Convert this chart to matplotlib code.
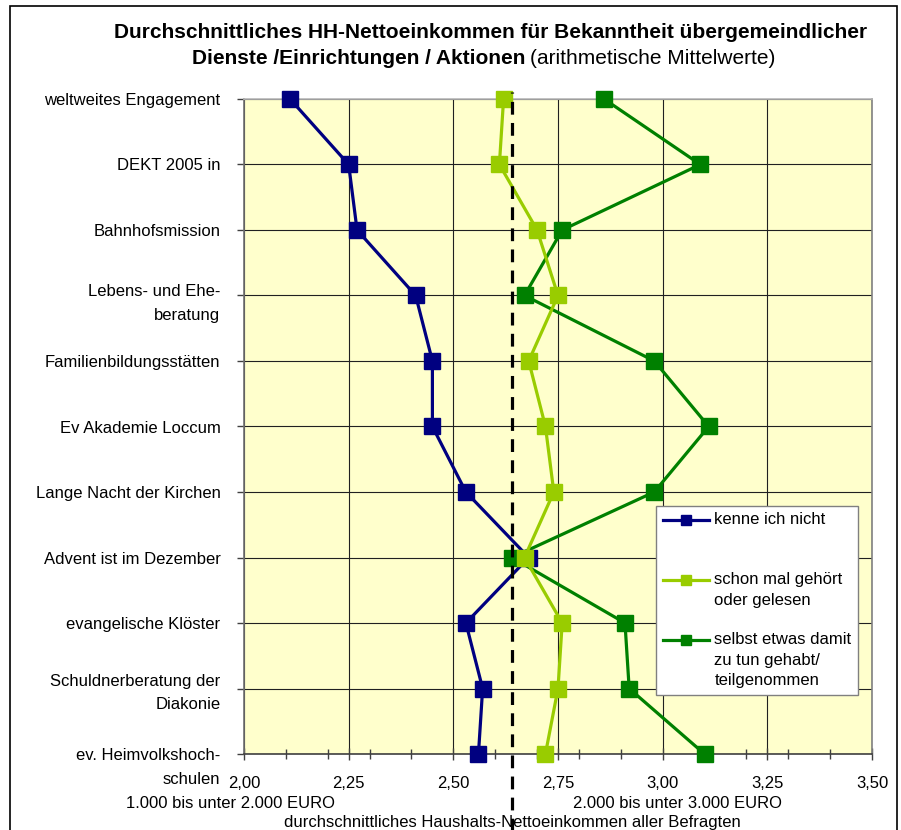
import numpy as np
import matplotlib
matplotlib.use("Agg")
import matplotlib.pyplot as plt
import matplotlib.transforms as mtransforms
from matplotlib.legend_handler import HandlerLine2D
from matplotlib.lines import Line2D
from matplotlib.patches import Rectangle

plt.rcParams['font.family'] = ['Liberation Sans', 'DejaVu Sans']

# --- data (arithmetic means, 2 = 1.000-2.000 EUR, 3 = 2.000-3.000 EUR) ---
categories = [
    "weltweites Engagement",
    "DEKT 2005 in",
    "Bahnhofsmission",
    "Lebens- und Ehe-\nberatung",
    "Familienbildungsstätten",
    "Ev Akademie Loccum",
    "Lange Nacht der Kirchen",
    "Advent ist im Dezember",
    "evangelische Klöster",
    "Schuldnerberatung der\nDiakonie",
    "ev. Heimvolkshoch-\nschulen",
]
kenne_nicht = [2.11, 2.25, 2.27, 2.41, 2.45, 2.45, 2.53, 2.68, 2.53, 2.57, 2.56]
schon_gehoert = [2.62, 2.61, 2.70, 2.75, 2.68, 2.72, 2.74, 2.67, 2.76, 2.75, 2.72]
selbst_teilgenommen = [2.86, 3.09, 2.76, 2.67, 2.98, 3.11, 2.98, 2.64, 2.91, 2.92, 3.10]
mittelwert_alle = 2.64

series_labels = ["kenne ich nicht", "schon mal gehört\noder gelesen",
                 "selbst etwas damit\nzu tun gehabt/\nteilgenommen"]
series_colors = ["#000080", "#99CC00", "#008000"]

x_major = [2.00, 2.25, 2.50, 2.75, 3.00, 3.25, 3.50]
x_minor = np.arange(2.1, 3.45, 0.1)

W, H = 901, 830
fig = plt.figure(figsize=(W / 100, H / 100), dpi=100)
ax = fig.add_axes([244 / W, 76 / H, 628 / W, 655 / H])
ax.set_facecolor("#FFFFCC")

y = np.arange(len(categories))

# series (green under, then navy, lime on top)
order = [2, 0, 1]
all_series = [kenne_nicht, schon_gehoert, selbst_teilgenommen]
for z, i in enumerate(order):
    ax.plot(all_series[i], y, color=series_colors[i], lw=2.3, marker="s",
            markersize=11, markeredgecolor=series_colors[i], clip_on=False,
            zorder=3 + z, label=series_labels[i])

# mean of all respondents
ax.axvline(mittelwert_alle, ymin=-0.12, ymax=1.011, clip_on=False, color="black",
           lw=2.3, ls=(0, (4, 2.6)), zorder=10)

ax.set_xlim(2.0, 3.5)
ax.set_ylim(len(categories) - 1, 0)
ax.set_xticks(x_major)
ax.set_xticks(x_minor, minor=True)
ax.set_xticklabels([f"{v:.2f}".replace(".", ",") for v in x_major], fontsize=12)
ax.set_yticks(y)
ax.set_yticklabels(categories, fontsize=12, ha="right", linespacing=1.7)

ax.tick_params(axis="x", which="major", direction="inout", length=9, width=1,
               color="#404040", pad=11)
ax.tick_params(axis="x", which="minor", direction="inout", length=7, width=1,
               color="#404040")
ax.tick_params(axis="y", which="major", direction="out", length=5, width=1,
               color="#404040", pad=12)

ax.grid(True, which="major", color="#202020", lw=0.8)
ax.set_axisbelow(True)

ax.spines["top"].set_color("#b8b8b8")
ax.spines["right"].set_color("#808080")
ax.spines["left"].set_color("#707070")
ax.spines["bottom"].set_color("#404040")
for s in ax.spines.values():
    s.set_linewidth(1.2)

# two-line labels sit a little off their tick, as in Excel
label_drop = {"ev. Heim": 5.5, "Lebens": 1.7, "Schuldner": -1}
for lab in ax.get_yticklabels():
    for key, dy in label_drop.items():
        if lab.get_text().startswith(key):
            lab.set_transform(lab.get_transform() +
                              mtransforms.ScaledTranslation(0, -dy / 72, fig.dpi_scale_trans))

# texts under the axis
ax.text(-0.021, -0.075, "1.000 bis unter 2.000 EURO", transform=ax.transAxes,
        ha="center", va="center", fontsize=12)
ax.text(0.691, -0.075, "2.000 bis unter 3.000 EURO", transform=ax.transAxes,
        ha="center", va="center", fontsize=12)
ax.text(mittelwert_alle, -0.104, "durchschnittliches Haushalts-Nettoeinkommen aller Befragten",
        transform=ax.get_xaxis_transform(), ha="center", va="center", fontsize=12)

# legend: every entry takes three lines, marker sits on the first line
LEG_FS = 12
LEG_LS = 1.45
pad_labels = [lab + "\n" * (2 - lab.count("\n")) for lab in series_labels]
step_pt = LEG_FS * (0.716 * LEG_LS + 0.21)


class FirstLineHandler(HandlerLine2D):
    def create_artists(self, legend, orig_handle, xdescent, ydescent, width,
                       height, fontsize, trans):
        arts = super().create_artists(legend, orig_handle, xdescent, ydescent,
                                      width, height, fontsize, trans)
        for a in arts:
            a.set_ydata(np.asarray(a.get_ydata()) + step_pt)
        return arts


handles = [Line2D([], [], color=c, lw=2.3, marker="s", markersize=7) for c in series_colors]
leg = ax.legend(handles, pad_labels, loc="upper left", bbox_to_anchor=(0.656, 0.379),
                borderaxespad=0, borderpad=0.4, handlelength=2.8, handletextpad=0.3,
                labelspacing=0.25, fontsize=LEG_FS, fancybox=False, framealpha=1,
                edgecolor="#808080", handler_map={Line2D: FirstLineHandler()})
leg.get_frame().set_linewidth(1.0)
leg.set_zorder(20)
for t in leg.get_texts():
    t.set_linespacing(LEG_LS)

# title
fig.text(491 / W, 1 - 32 / H,
         "Durchschnittliches HH-Nettoeinkommen für Bekanntheit übergemeindlicher",
         ha="center", va="center", fontsize=15, weight="bold")
t_a = fig.text(0, 1 - 58 / H, "Dienste /Einrichtungen / Aktionen", ha="left",
               va="center", fontsize=15, weight="bold")
t_b = fig.text(0, 1 - 58 / H, "(arithmetische Mittelwerte)", ha="left",
               va="center", fontsize=15)
fig.canvas.draw()
r = fig.canvas.get_renderer()
wa = t_a.get_window_extent(r).width
wb = t_b.get_window_extent(r).width
gap = 5
x0 = 484 - (wa + gap + wb) / 2
t_a.set_x(x0 / W)
t_b.set_x((x0 + wa + gap) / W)

# chart border
fig.add_artist(Rectangle((10 / W, -0.05), 887 / W, 1.05 - 6 / H, transform=fig.transFigure,
                         fill=False, edgecolor="black", lw=1.2))

fig.savefig("out.png", dpi=100)
